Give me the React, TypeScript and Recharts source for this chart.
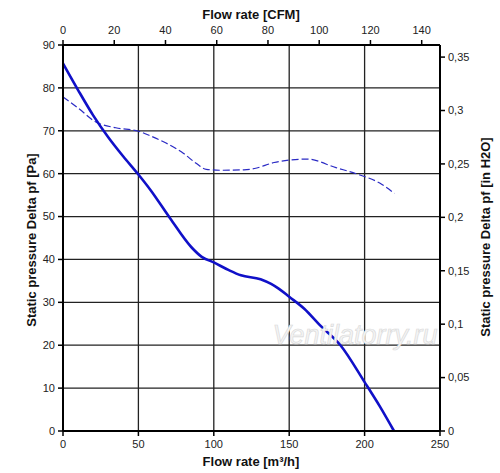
import { ComposedChart, Line, XAxis, YAxis, CartesianGrid } from 'recharts';

// solid curve: flow [m³/h] vs static pressure [Pa]
const solidFlow = [0, 10, 20, 30, 40, 50, 58, 71, 85, 92, 100, 110, 118, 131, 138, 143, 150, 160, 170, 184, 200, 210, 219.5];
const solidPa = [85.7, 79.5, 73.6, 68.5, 64, 59.8, 56.2, 49.6, 42.9, 40.6, 39.3, 37.5, 36.3, 35.4, 34.3, 33.2, 31.3, 28.5, 24.8, 20, 11.4, 5.8, 0];

// dashed curve
const dashFlow = [0, 10, 21.5, 35, 50, 58, 68, 80, 88, 95, 105, 120, 127, 140, 151, 162, 181, 196, 210, 219.7];
const dashPa = [77.9, 75.3, 72.1, 70.7, 69.9, 68.8, 67.2, 64.7, 62.5, 61, 60.8, 60.9, 61.2, 62.6, 63.2, 63.4, 61.4, 59.8, 57.8, 55.4];

const flowTicks = [0, 50, 100, 150, 200, 250];
const cfmTicks = [0, 20, 40, 60, 80, 100, 120, 140];
const paTicks = [0, 10, 20, 30, 40, 50, 60, 70, 80, 90];
const inchTicks = [0, 0.05, 0.1, 0.15, 0.2, 0.25, 0.3, 0.35];

const M3H_PER_CFM = 1.699;
const PA_PER_INCH = 249.09;

const solidData = solidFlow.map((f, i) => ({ flow: f, pa: solidPa[i] }));
const dashData = dashFlow.map((f, i) => ({ flow: f, pa: dashPa[i] }));
// same curve in CFM / inH2O, only to tie the secondary axes to a series
const solidImperial = solidFlow.map((f, i) => ({ cfm: f / M3H_PER_CFM, inch: solidPa[i] / PA_PER_INCH }));

const FONT = 'Arial, "Liberation Sans", sans-serif';
const tickStyle = { fontSize: 11, fill: '#222', fontFamily: FONT };
const axisLine = { stroke: '#000', strokeWidth: 2 };
const tickLine = { stroke: '#000', strokeWidth: 1.5 };

const App = () => {
  return (
    <div style={{ position: 'absolute', left: 0, top: 0, width: 500, height: 473, background: '#fff' }}>
      <ComposedChart width={500} height={473} margin={{ top: 0, right: 0, left: 0, bottom: 0 }}>
        <CartesianGrid xAxisId="m3h" yAxisId="pa" stroke="#222" strokeWidth={1.3} />
        <XAxis
          xAxisId="m3h"
          type="number"
          dataKey="flow"
          domain={[0, 250]}
          ticks={flowTicks}
          orientation="bottom"
          height={42}
          tick={tickStyle}
          tickSize={5}
          tickMargin={4}
          axisLine={axisLine}
          tickLine={tickLine}
          interval={0}
        />
        <XAxis
          xAxisId="cfm"
          type="number"
          dataKey="cfm"
          domain={[0, 250 / M3H_PER_CFM]}
          ticks={cfmTicks}
          orientation="top"
          height={45}
          tick={tickStyle}
          tickSize={5}
          tickMargin={6}
          axisLine={axisLine}
          tickLine={tickLine}
          interval={0}
          allowDataOverflow
        />
        <YAxis
          yAxisId="pa"
          type="number"
          domain={[0, 90]}
          ticks={paTicks}
          width={63}
          tick={tickStyle}
          tickSize={5}
          tickMargin={3}
          axisLine={axisLine}
          tickLine={tickLine}
          interval={0}
        />
        <YAxis
          yAxisId="inch"
          type="number"
          orientation="right"
          domain={[0, 90 / PA_PER_INCH]}
          ticks={inchTicks}
          width={60}
          tick={tickStyle}
          tickSize={5}
          tickMargin={3}
          axisLine={axisLine}
          tickLine={tickLine}
          interval={0}
          allowDataOverflow
          tickFormatter={(v: number) => String(Math.round(v * 100) / 100).replace('.', ',')}
        />
        <Line
          xAxisId="cfm"
          yAxisId="inch"
          data={solidImperial}
          dataKey="inch"
          type="monotone"
          stroke="#1010c8"
          strokeOpacity={0}
          dot={false}
          activeDot={false}
          isAnimationActive={false}
        />
        <Line
          xAxisId="m3h"
          yAxisId="pa"
          data={dashData}
          dataKey="pa"
          type="monotone"
          stroke="#2a2ac4"
          strokeWidth={1.2}
          strokeDasharray="7 3"
          dot={false}
          isAnimationActive={false}
        />
        <Line
          xAxisId="m3h"
          yAxisId="pa"
          data={solidData}
          dataKey="pa"
          type="monotone"
          stroke="#1010c8"
          strokeWidth={2.6}
          dot={false}
          isAnimationActive={false}
        />
      </ComposedChart>
      <svg width={500} height={473} style={{ position: 'absolute', left: 0, top: 0, pointerEvents: 'none' }}>
        <text x={355} y={344} textAnchor="middle" fontFamily={FONT} fontStyle="italic" fontSize={27} fill="#f4f4f4" stroke="#d8d8d8" strokeWidth={0.6}>
          Ventilatorry.ru
        </text>
        <text x={251} y={19} textAnchor="middle" fontFamily={FONT} fontWeight="bold" fontSize={13} fill="#111">
          Flow rate [CFM]
        </text>
        <text x={251} y={466} textAnchor="middle" fontFamily={FONT} fontWeight="bold" fontSize={13} fill="#111">
          Flow rate [m³/h]
        </text>
        <text x={0} y={0} transform="translate(36,240) rotate(-90)" textAnchor="middle" fontFamily={FONT} fontWeight="bold" fontSize={13} fill="#111">
          Static pressure Delta pf [Pa]
        </text>
        <text x={0} y={0} transform="translate(490,237) rotate(-90)" textAnchor="middle" fontFamily={FONT} fontWeight="bold" fontSize={13} fill="#111">
          Static pressure Delta pf [in H2O]
        </text>
      </svg>
    </div>
  );
};

export default App;
